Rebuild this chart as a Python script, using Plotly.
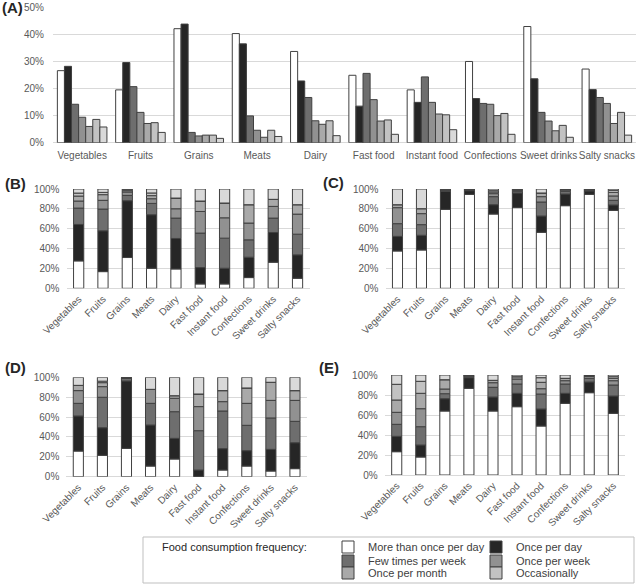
import numpy as np
import plotly.graph_objects as go

categories = ["Vegetables", "Fruits", "Grains", "Meats", "Dairy", "Fast food",
              "Instant food", "Confections", "Sweet drinks", "Salty snacks"]
series_names = ["More than once per day", "Once per day", "Few times per week",
                "Once per week", "Once per month", "Occasionally", "Other"]
colors = ["#ffffff", "#262626", "#6e6e6e", "#919191", "#a9a9a9", "#c2c2c2", "#d9d9d9"]

# Panel A: grouped bars (percent), one row per frequency series
panel_A = [
    [26.6, 19.5, 42.1, 40.3, 33.7, 24.9, 19.5, 30.0, 42.9, 27.2],
    [28.2, 29.6, 43.8, 36.5, 22.8, 13.5, 14.9, 16.3, 23.6, 19.6],
    [14.2, 20.7, 3.8, 9.9, 16.7, 25.6, 24.3, 14.5, 11.2, 16.7],
    [9.4, 11.2, 2.5, 4.6, 8.1, 15.9, 14.9, 14.2, 8.0, 14.5],
    [6.0, 7.1, 2.8, 2.0, 6.8, 8.0, 10.6, 10.0, 4.4, 7.1],
    [8.6, 7.4, 2.8, 4.6, 8.1, 8.4, 10.3, 10.8, 6.4, 11.2],
    [5.8, 3.8, 1.6, 2.3, 2.6, 3.1, 4.8, 3.1, 2.0, 2.8],
]
# Panels B-E: stacked 100% bars
panel_B = [
    [27.6, 16.8, 31.0, 20.2, 19.5, 4.4, 4.4, 10.8, 26.3, 10.1],
    [36.7, 41.1, 57.2, 53.9, 30.7, 16.5, 15.8, 20.5, 29.9, 23.6],
    [16.5, 21.9, 5.4, 11.4, 20.5, 34.7, 30.3, 17.5, 14.5, 20.8],
    [7.1, 8.8, 3.4, 4.7, 9.4, 21.8, 20.5, 16.9, 11.8, 20.2],
    [5.0, 5.7, 1.3, 3.1, 10.8, 10.5, 14.9, 18.5, 7.1, 9.5],
    [3.0, 2.3, 1.0, 2.7, 0.0, 0.0, 0.0, 0.0, 0.0, 0.0],
    [4.1, 3.4, 0.7, 4.0, 9.1, 12.1, 14.1, 15.8, 10.4, 15.8],
]
panel_C = [
    [37.6, 38.6, 79.5, 94.6, 74.8, 81.2, 56.4, 83.2, 94.6, 78.5],
    [14.7, 14.8, 18.2, 3.7, 9.4, 14.8, 16.4, 11.7, 3.4, 5.4],
    [12.8, 10.7, 1.2, 0.9, 8.1, 1.7, 14.1, 2.8, 1.0, 4.7],
    [16.1, 11.1, 0.5, 0.3, 3.0, 1.0, 5.4, 1.3, 0.5, 4.4],
    [3.0, 5.0, 0.3, 0.2, 1.7, 0.6, 3.7, 0.5, 0.2, 3.6],
    [0.0, 0.0, 0.1, 0.1, 1.3, 0.3, 0.0, 0.2, 0.1, 2.1],
    [15.8, 19.8, 0.2, 0.2, 1.7, 0.4, 4.0, 0.3, 0.2, 1.3],
]
panel_D = [
    [25.8, 21.5, 28.5, 10.7, 17.8, 0.3, 6.7, 10.7, 5.7, 8.1],
    [35.3, 27.8, 67.8, 41.3, 20.8, 6.4, 21.5, 15.5, 21.8, 26.1],
    [12.7, 30.6, 2.7, 21.8, 26.8, 39.6, 37.9, 25.5, 31.6, 21.5],
    [12.8, 10.7, 0.5, 14.1, 13.5, 24.2, 9.4, 22.1, 17.7, 21.1],
    [5.3, 4.0, 0.2, 0.0, 2.6, 12.7, 11.1, 15.5, 18.2, 9.8],
    [0.0, 1.5, 0.1, 0.0, 0.0, 0.0, 0.0, 0.0, 0.0, 0.0],
    [8.1, 3.9, 0.2, 12.1, 18.5, 16.8, 13.4, 10.7, 5.0, 13.4],
]
panel_E = [
    [23.3, 18.0, 64.0, 86.7, 64.0, 68.3, 49.0, 71.7, 82.3, 61.7],
    [15.4, 12.0, 12.3, 10.6, 14.0, 13.4, 17.0, 10.0, 10.7, 17.3],
    [12.0, 18.3, 5.0, 1.7, 9.7, 9.3, 15.0, 9.3, 3.7, 11.0],
    [12.0, 18.0, 4.7, 0.4, 4.6, 5.0, 5.3, 3.3, 2.0, 4.3],
    [12.3, 15.4, 9.3, 0.2, 2.4, 2.3, 6.4, 2.4, 0.5, 2.4],
    [15.7, 12.0, 0.0, 0.1, 0.0, 0.0, 4.6, 0.0, 0.3, 1.6],
    [9.3, 6.3, 4.7, 0.3, 5.3, 1.7, 2.7, 3.3, 0.5, 1.7],
]

W, H = 636, 585
FONT = "Liberation Sans"
TICKC = "#595959"
GRID = "#d9d9d9"
OUTLINE = "#404040"

fig = go.Figure()

legend_of = ["legend", "legend", "legend2", "legend2", "legend3", "legend3", None]
for i, name in enumerate(series_names):
    fig.add_trace(go.Bar(
        x=categories, y=panel_A[i], name=name,
        marker=dict(color=colors[i], line=dict(color=OUTLINE, width=1)),
        xaxis="x", yaxis="y",
        showlegend=legend_of[i] is not None,
        legend=legend_of[i] if legend_of[i] else "legend",
    ))

stack_panels = [("x2", "y2", panel_B), ("x3", "y3", panel_C),
                ("x4", "y4", panel_D), ("x5", "y5", panel_E)]
for xa, ya, data in stack_panels:
    arr = np.array(data, dtype=float)
    bases = np.cumsum(arr, axis=0) - arr
    for i, name in enumerate(series_names):
        fig.add_trace(go.Bar(
            x=categories, y=arr[i], base=bases[i], name=name,
            width=0.42, offset=-0.21, offsetgroup=xa,
            marker=dict(color=colors[i], line=dict(color=OUTLINE, width=1)),
            xaxis=xa, yaxis=ya, showlegend=False,
        ))


def xax(domain, angle, anchor, size=10, standoff=2):
    return dict(domain=domain, anchor=anchor, type="category", tickangle=angle,
                showgrid=False, showline=False, ticks="", ticklabelstandoff=standoff,
                tickfont=dict(family=FONT, size=size, color=TICKC))


def yax(domain, rng, dtick, anchor, standoff):
    return dict(domain=domain, anchor=anchor, range=rng, dtick=dtick, ticksuffix="%",
                showgrid=True, gridcolor=GRID, gridwidth=1, zeroline=True,
                zerolinecolor=GRID, zerolinewidth=1, showline=False, ticks="",
                ticklabelstandoff=standoff,
                tickfont=dict(family=FONT, size=10, color=TICKC))


yA = [1 - 142.7 / H, 1 - 7.3 / H]
yBC = [1 - 288.3 / H, 1 - 189.0 / H]
yD = [1 - 476.7 / H, 1 - 377.3 / H]
yE = [1 - 475.0 / H, 1 - 375.0 / H]

leg_common = dict(orientation="h", xanchor="left", yanchor="middle",
                  entrywidth=103, entrywidthmode="pixels",
                  font=dict(family=FONT, size=11, color="#404040"),
                  bgcolor="rgba(0,0,0,0)", borderwidth=0, traceorder="normal")

fig.update_layout(
    width=W, height=H, margin=dict(l=0, r=0, t=0, b=0, autoexpand=False),
    paper_bgcolor="white", plot_bgcolor="white",
    font=dict(family=FONT, size=10, color=TICKC),
    barmode="group", bargap=0.15, bargroupgap=0,
    xaxis=xax([53 / W, 1.0], 0, "y", 10, 5),
    yaxis=yax(yA, [0, 50], 10, "x", 8),
    xaxis2=xax([66.5 / W, 309.7 / W], -45, "y2"),
    yaxis2=yax(yBC, [0, 100], 20, "x2", 6),
    xaxis3=xax([385.5 / W, 625.3 / W], -45, "y3"),
    yaxis3=yax(yBC, [0, 100], 20, "x3", 6),
    xaxis4=xax([66.3 / W, 307.0 / W], -45, "y4"),
    yaxis4=yax(yD, [0, 100], 20, "x4", 6),
    xaxis5=xax([384.7 / W, 625.3 / W], -45, "y5"),
    yaxis5=yax(yE, [0, 100], 20, "x5", 6),
    legend=dict(leg_common, x=328 / W, y=1 - 547 / H),
    legend2=dict(leg_common, x=328 / W, y=1 - 561 / H),
    legend3=dict(leg_common, x=328 / W, y=1 - 573 / H),
    showlegend=True,
)

fig.add_shape(type="rect", xref="paper", yref="paper",
              x0=143 / W, x1=634 / W, y0=1 - 583 / H, y1=1 - 537 / H,
              line=dict(color="#bfbfbf", width=1), fillcolor="rgba(0,0,0,0)", layer="below")

fig.add_annotation(text="Food consumption frequency:", xref="paper", yref="paper",
                   x=160 / W, y=1 - 547 / H, xanchor="left", yanchor="middle",
                   showarrow=False, font=dict(family=FONT, size=11, color="#262626"))

for lab, px, py in [("(A)", 0, 8), ("(B)", 3, 183), ("(C)", 321, 182),
                    ("(D)", 3, 367), ("(E)", 317, 367)]:
    fig.add_annotation(text="<b>%s</b>" % lab, xref="paper", yref="paper",
                       x=px / W, y=1 - py / H, xanchor="left", yanchor="middle",
                       showarrow=False, font=dict(family=FONT, size=15, color="#262626"))

fig.write_html("out.html", config={"displayModeBar": False},
               post_script="document.body.style.margin='0';document.body.style.overflow='hidden';")
